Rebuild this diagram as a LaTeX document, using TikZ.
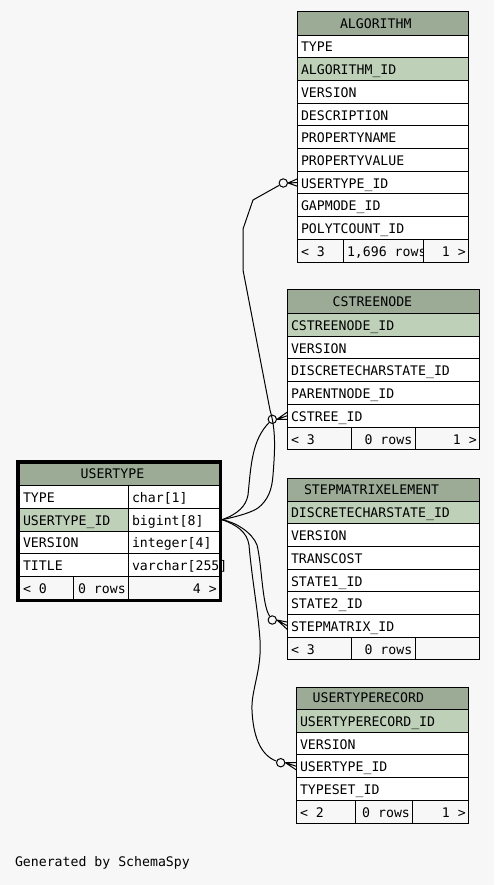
\documentclass[tikz,border=0pt]{standalone}
\usepackage{fontspec}
\newfontfamily\sfont{DejaVu Sans Mono}
\definecolor{bg}{HTML}{F7F7F7}
\definecolor{hdr}{HTML}{9BAB96}
\definecolor{pk}{HTML}{BED1B8}
\definecolor{ftr}{HTML}{F7F7F7}
\tikzset{
  cell/.style={rectangle, draw=black, line width=0.75pt, inner sep=0pt, outer sep=0pt},
  txt/.style={inner sep=0pt, outer sep=0pt, font=\sfont\fontsize{9.9}{12}\selectfont},
  edge/.style={draw=black, line width=0.75pt},
  odot/.style={circle, draw=black, line width=0.75pt, fill=bg, inner sep=0pt, minimum size=6.3pt}
}
% name, x1, x2, top, height, fill, text (left aligned)
\newcommand{\fld}[7]{%
  \node[cell, fill=#6, minimum width={((#3)-(#2))*0.75pt}, minimum height={(#5)*0.75pt}, anchor=north west] (#1) at ({#2},{#4}) {};
  \node[txt, anchor=base west] (#1t) at ([shift={(3.5,-5.8)}]#1.south west) {#7};}
% same, right aligned text
\newcommand{\fldr}[7]{%
  \node[cell, fill=#6, minimum width={((#3)-(#2))*0.75pt}, minimum height={(#5)*0.75pt}, anchor=north west] (#1) at ({#2},{#4}) {};
  \node[txt, anchor=base east] (#1t) at ([shift={(-2.8,-5.8)}]#1.south east) {#7};}
% header: name, x1, x2, top, height, text x, text
\newcommand{\hdr}[7]{%
  \node[cell, fill=hdr, minimum width={((#3)-(#2))*0.75pt}, minimum height={(#5)*0.75pt}, anchor=north west] (#1) at ({#2},{#4}) {};
  \node[txt, anchor=base west] (#1t) at ({#6},{(#4)+(#5)-7}) {#7};}
% crow's foot from circle to row
\newcommand{\crow}[2]{%
  \draw[edge] (#1.east) -- ([yshift=2.8pt]#2.west) (#1.east) -- (#2.west) (#1.east) -- ([yshift=-2.8pt]#2.west);}
\begin{document}
\begin{tikzpicture}[x=0.75pt,y=-0.75pt]
\fill[bg] (0,0) rectangle (494,885);
\useasboundingbox (0,0) rectangle (494,885);

% ALGORITHM
\hdr{ah}{297.5}{468.5}{11.5}{23.5}{340}{ALGORITHM}
\foreach \t/\f [count=\i] in {TYPE/white,ALGORITHM\_ID/pk,VERSION/white,DESCRIPTION/white,PROPERTYNAME/white,PROPERTYVALUE/white,USERTYPE\_ID/white,GAPMODE\_ID/white,POLYTCOUNT\_ID/white}{
  \pgfmathsetmacro\yy{35+(\i-1)*22.7}
  \fld{a\i}{297.5}{468.5}{\yy}{22.7}{\f}{\t}
}
\fld{af1}{297.5}{343.5}{239.3}{22.7}{ftr}{< 3}
\fld{af2}{343.5}{423.5}{239.3}{22.7}{ftr}{1,696 rows}
\fldr{af3}{423.5}{468.5}{239.3}{22.7}{ftr}{1 >}

% CSTREENODE
\hdr{ch}{287.5}{479.5}{289}{24.3}{332.7}{CSTREENODE}
\foreach \t/\f [count=\i] in {CSTREENODE\_ID/pk,VERSION/white,DISCRETECHARSTATE\_ID/white,PARENTNODE\_ID/white,CSTREE\_ID/white}{
  \pgfmathsetmacro\yy{313.3+(\i-1)*22.75}
  \fld{c\i}{287.5}{479.5}{\yy}{22.75}{\f}{\t}
}
\fld{cf1}{287.5}{351}{427.05}{22.75}{ftr}{< 3}
\fldr{cf2}{351}{415}{427.05}{22.75}{ftr}{0 rows}
\fldr{cf3}{415}{479.5}{427.05}{22.75}{ftr}{1 >}

% USERTYPE
\hdr{uh}{19.5}{219.5}{463.5}{22.2}{80.7}{USERTYPE}
\foreach \t/\f/\ty [count=\i] in {TYPE/white/char[1],USERTYPE\_ID/pk/bigint[8],VERSION/white/integer[4],TITLE/white/varchar[255]}{
  \pgfmathsetmacro\yy{485.7+(\i-1)*22.65}
  \fld{u\i}{19.5}{128.5}{\yy}{22.65}{\f}{\t}
  \fld{u\i b}{128.5}{219.5}{\yy}{22.65}{white}{\ty}
}
\fld{uf1}{19.5}{73.5}{576.3}{22.7}{ftr}{< 0}
\fldr{uf2}{73.5}{128.5}{576.3}{22.7}{ftr}{0 rows}
\fldr{uf3}{128.5}{219.5}{576.3}{22.7}{ftr}{4 >}
\draw[line width=2.25pt] (17.5,461.5) rectangle (220.5,600.5);

% STEPMATRIXELEMENT
\hdr{sh}{287.5}{479.5}{478.3}{22.7}{304}{STEPMATRIXELEMENT}
\foreach \t/\f [count=\i] in {DISCRETECHARSTATE\_ID/pk,VERSION/white,TRANSCOST/white,STATE1\_ID/white,STATE2\_ID/white,STEPMATRIX\_ID/white}{
  \pgfmathsetmacro\yy{501+(\i-1)*22.7}
  \fld{s\i}{287.5}{479.5}{\yy}{22.7}{\f}{\t}
}
\fld{sf1}{287.5}{351}{637.2}{22.7}{ftr}{< 3}
\fldr{sf2}{351}{415}{637.2}{22.7}{ftr}{0 rows}
\fldr{sf3}{415}{479.5}{637.2}{22.7}{ftr}{}

% USERTYPERECORD
\hdr{rh}{296.5}{468.5}{687.5}{21.8}{312.7}{USERTYPERECORD}
\foreach \t/\f [count=\i] in {USERTYPERECORD\_ID/pk,VERSION/white,USERTYPE\_ID/white,TYPESET\_ID/white}{
  \pgfmathsetmacro\yy{709.3+(\i-1)*22.8}
  \fld{r\i}{296.5}{468.5}{\yy}{22.8}{\f}{\t}
}
\fld{rf1}{296.5}{355.7}{800.5}{22.8}{ftr}{< 2}
\fldr{rf2}{355.7}{412.7}{800.5}{22.8}{ftr}{0 rows}
\fldr{rf3}{412.7}{468.5}{800.5}{22.8}{ftr}{1 >}

% connector ends
\coordinate (ut) at ([xshift=1.9pt]u2b.east);
\node[odot] (k1) at (283.3,183) {};
\node[odot] (k2) at (272.3,419.3) {};
\node[odot] (k3) at (272.3,620) {};
\node[odot] (k4) at (280.7,762.7) {};

% connectors
\draw[edge] (ut) .. controls (240,516) and (252,512) .. (258,508)
  .. controls (268,500) and (272,490) .. (273,475)
  .. controls (275,450) and (276,430) .. (270,410)
  -- (243,270) -- (243,229) -- (253,200) -- (k1);
\draw[edge] (ut) .. controls (238,514) and (246,506) .. (248,495)
  .. controls (251,465) and (252,440) .. (k2);
\draw[edge] (ut) .. controls (235,522) and (252,532) .. (257,545)
  .. controls (262,565) and (262,605) .. (k3);
\draw[edge] (ut) .. controls (237,525) and (247,532) .. (249,545)
  .. controls (252,580) and (258,610) .. (260,640)
  .. controls (262,670) and (251,690) .. (252,710)
  .. controls (253,735) and (260,755) .. (k4);

\crow{k1}{a7}
\crow{k2}{c5}
\crow{k3}{s6}
\crow{k4}{r3}

\node[txt, anchor=base west] (gen) at (15,866.5) {Generated by SchemaSpy};
\end{tikzpicture}
\end{document}
